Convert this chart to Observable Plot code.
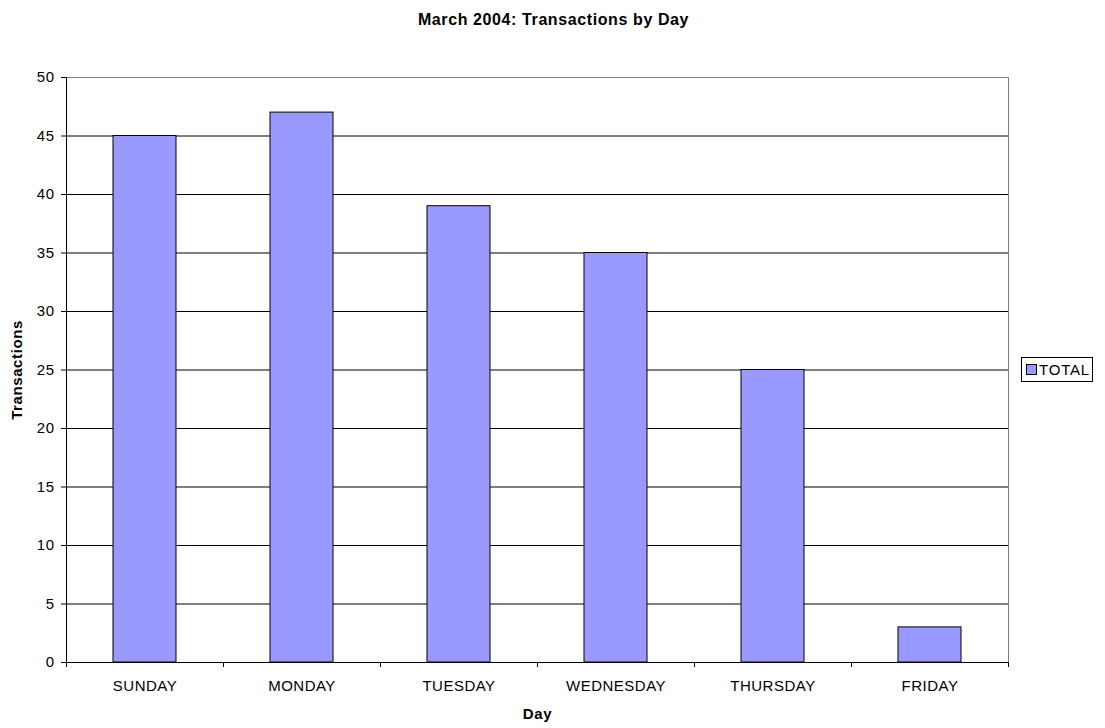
<!DOCTYPE html>
<html><head><meta charset="utf-8">
<script src="https://cdn.jsdelivr.net/npm/d3@7"></script>
<script src="https://cdn.jsdelivr.net/npm/@observablehq/plot@0.6"></script>
<style>
body{margin:0;background:#fff;}
#wrap{position:relative;width:1105px;height:728px;}
#wrap svg text{letter-spacing:0.5px;}
#wrap svg g[font-weight="bold"] text{letter-spacing:0.6px;}
#legend{position:absolute;left:1021px;top:357px;width:72px;height:25px;border:1px solid #000;box-sizing:border-box;font:15px "Liberation Sans",Arial,sans-serif;letter-spacing:0.8px;display:flex;align-items:center;color:#000;background:#fff;}
#legend .sw{width:9px;height:9px;background:#9999ff;border:1px solid #000;margin:0 2px 0 4px;box-sizing:content-box;}
</style></head>
<body><div id="wrap"></div>
<script>
const days = ["SUNDAY","MONDAY","TUESDAY","WEDNESDAY","THURSDAY","FRIDAY"];
const totals = [45, 47, 39, 35, 25, 3];
const yTicks = [0, 5, 10, 15, 20, 25, 30, 35, 40, 45, 50];
const gridValues = [5, 10, 15, 20, 25, 30, 35, 40, 45];
const seriesName = "TOTAL";
const titleText = "March 2004: Transactions by Day";
const xTitle = "Day";
const yTitle = "Transactions";

const data = days.map((d, i) => ({day: d, i, value: totals[i]}));
const boundaries = d3.range(0, days.length + 1);

const chart = Plot.plot({
  width: 1105,
  height: 728,
  marginLeft: 66,
  marginRight: 97,
  marginTop: 77,
  marginBottom: 66,
  style: {fontFamily: "'Liberation Sans', Arial, sans-serif", fontSize: "15px", background: "#fff", color: "#000"},
  x: {domain: [0, days.length], axis: null},
  y: {domain: [0, 50], axis: null},
  marks: [
    Plot.frame({stroke: "#808080"}),
    Plot.ruleY(gridValues, {stroke: "#000"}),
    Plot.rectY(data, {x1: "i", x2: d => d.i + 1, y1: 0, y2: "value", fill: "#9999ff", stroke: "#000", strokeWidth: 1, insetLeft: 47, insetRight: 47}),
    Plot.ruleX([0], {stroke: "#000"}),
    Plot.ruleY([0], {stroke: "#000"}),
    Plot.axisY({ticks: yTicks, tickSize: 5, tickPadding: 7, label: null, fontSize: 15, stroke: "#000", fill: "#000"}),
    Plot.axisX({ticks: boundaries, tickSize: 5, tickFormat: () => "", label: null, stroke: "#000"}),
    Plot.text(data, {x: d => d.i + 0.5, y: 0, text: "day", dy: 24, fontSize: 15, fill: "#000"}),
    Plot.text([titleText], {frameAnchor: "top", lineAnchor: "middle", textAnchor: "middle", dy: -58, dx: 16, fontWeight: "bold", fontSize: 16, fill: "#000"}),
    Plot.text([xTitle], {frameAnchor: "bottom", lineAnchor: "middle", textAnchor: "middle", dy: 52, fontWeight: "bold", fontSize: 15, fill: "#000"}),
    Plot.text([yTitle], {frameAnchor: "left", lineAnchor: "middle", textAnchor: "middle", dx: -49, rotate: -90, fontWeight: "bold", fontSize: 15, fill: "#000"})
  ]
});
const wrap = document.getElementById("wrap");
wrap.appendChild(chart);
const legend = document.createElement("div");
legend.id = "legend";
legend.innerHTML = `<span class="sw"></span><span>${seriesName}</span>`;
wrap.appendChild(legend);
</script>
</body></html>
